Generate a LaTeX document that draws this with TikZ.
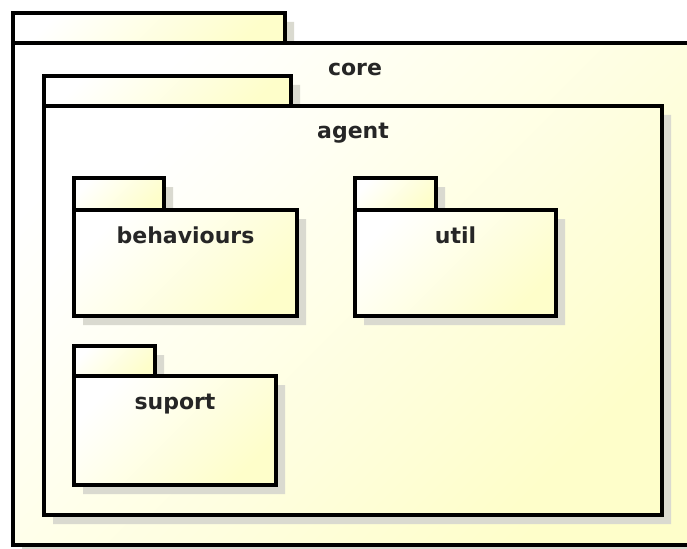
\documentclass[tikz,border=0pt]{standalone}
\usepackage{fontspec}
\setmainfont{DejaVu Sans}
\definecolor{pkgyellow}{HTML}{FEFECA}
\definecolor{pkgshadow}{HTML}{DADAD0}
\tikzset{
  pkgshape/.style={draw=black, line width=3.5pt, line join=miter, inner sep=0pt, outer sep=0pt,
    rectangle, anchor=north west, left color=white, right color=pkgyellow, shading angle=45},
  pkglabel/.style={anchor=base, font=\bfseries\fontsize{22}{26}\selectfont, text=black!85, inner sep=0pt},
  pkgdrop/.style={fill=pkgshadow}
}
% \umlpkg{id}{left}{tab top}{tab right}{body top}{right}{bottom}{label}
\newcommand\umlpkg[8]{%
  \begin{scope}[shift={(9,9)}]
    \fill[pkgdrop] (#2,#3) -| (#4,#5) -| (#6,#7) -| cycle;
  \end{scope}
  \node[pkgshape, minimum width=#4-#2, minimum height=#5-#3] (#1-tab) at (#2,#3) {};
  \node[pkgshape, minimum width=#6-#2, minimum height=#7-#5] (#1) at (#2,#5) {};
  \node[pkglabel] (#1-label) at ([yshift=-33pt]#1.north) {#8};
}
\begin{document}
\begin{tikzpicture}[x=1pt, y=-1pt]
  \useasboundingbox (0,0) rectangle (687,548);
  \clip (0,0) rectangle (687,548);
  \fill[white] (0,0) rectangle (687,548);
  \umlpkg{core}{13}{13}{285}{43}{697}{545}{core}
  \umlpkg{agent}{44}{76}{291}{106}{662}{515}{agent}
  \umlpkg{behaviours}{74}{178}{164}{210}{297}{316}{behaviours}
  \umlpkg{util}{355}{178}{436}{210}{556}{316}{util}
  \umlpkg{suport}{74}{346}{155}{376}{276}{485}{suport}
\end{tikzpicture}
\end{document}
